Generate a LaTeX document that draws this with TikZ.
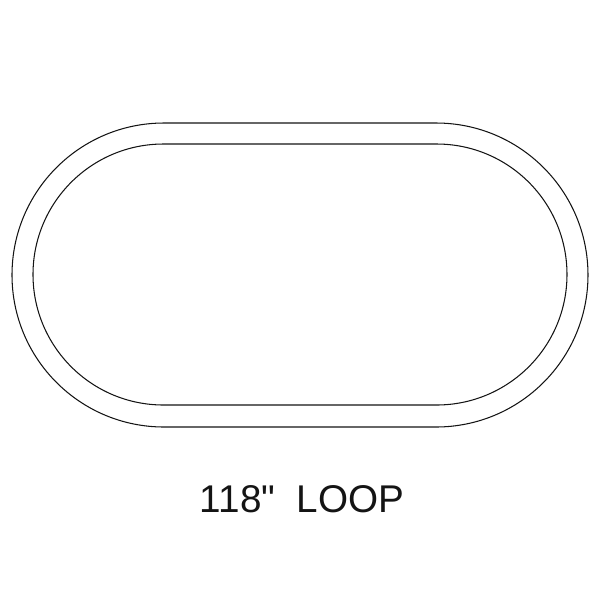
\documentclass[tikz,border=0pt]{standalone}
\usepackage{fontspec}
\newfontfamily\loopfont{Liberation Sans}
\definecolor{trk}{RGB}{20, 20, 20}

\begin{document}
\begin{tikzpicture}[x=0.02cm, y=-0.02cm,
loopline/.style={draw=trk, line width=0.6pt},
looplabel/.style={anchor=base, inner sep=0pt, text=trk, font=\loopfont\fontsize{22}{26}\selectfont},
]
\useasboundingbox (0,0) rectangle (600,600);
%Track
\draw[loopline, rounded corners=152*0.02cm] (12,123) rectangle (588,427);
\draw[loopline, rounded corners=130.5*0.02cm] (33,144) rectangle (567,405);
%Label
\node[looplabel] (lbl) at (302,512) {118"\ \ LOOP};
\end{tikzpicture}
\end{document}
